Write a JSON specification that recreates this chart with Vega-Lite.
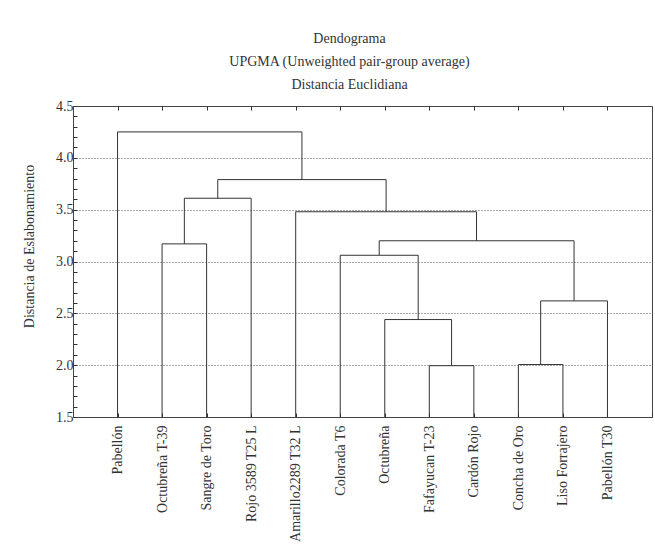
{
  "$schema": "https://vega.github.io/schema/vega-lite/v6.json",
  "width": 579,
  "height": 311,
  "autosize": {"type": "none"},
  "padding": {"left": 73, "top": 106, "right": 3, "bottom": 133},
  "background": "white",
  "title": {
    "text": ["Dendograma", "UPGMA (Unweighted pair-group average)", "Distancia Euclidiana"],
    "font": "Liberation Serif",
    "fontSize": 14,
    "fontWeight": "normal",
    "color": "#333",
    "lineHeight": 23,
    "anchor": "middle",
    "dx": -13,
    "offset": 7
  },
  "config": {
    "view": {"stroke": "#444", "strokeWidth": 1},
    "axis": {
      "labelFont": "Liberation Serif",
      "titleFont": "Liberation Serif",
      "labelColor": "#333",
      "titleColor": "#333",
      "tickColor": "#333",
      "domain": false
    }
  },
  "data": {
    "values": [
      {"merge": "A", "left": 8, "right": 9, "height": 1.995, "leftFrom": 1.5, "rightFrom": 1.5},
      {"merge": "B", "left": 7, "right": 8.5, "height": 2.44, "leftFrom": 1.5, "rightFrom": 1.995},
      {"merge": "C", "left": 10, "right": 11, "height": 2.006, "leftFrom": 1.5, "rightFrom": 1.5},
      {"merge": "D", "left": 10.5, "right": 12, "height": 2.62, "leftFrom": 2.006, "rightFrom": 1.5},
      {"merge": "E", "left": 6, "right": 7.75, "height": 3.06, "leftFrom": 1.5, "rightFrom": 2.44},
      {"merge": "F", "left": 6.875, "right": 11.25, "height": 3.2, "leftFrom": 3.06, "rightFrom": 2.62},
      {"merge": "G", "left": 5, "right": 9.06, "height": 3.48, "leftFrom": 1.5, "rightFrom": 3.2},
      {"merge": "H", "left": 2, "right": 3, "height": 3.17, "leftFrom": 1.5, "rightFrom": 1.5},
      {"merge": "I", "left": 2.5, "right": 4, "height": 3.61, "leftFrom": 3.17, "rightFrom": 1.5},
      {"merge": "J", "left": 3.25, "right": 7.03, "height": 3.79, "leftFrom": 3.61, "rightFrom": 3.48},
      {"merge": "K", "left": 1, "right": 5.14, "height": 4.25, "leftFrom": 1.5, "rightFrom": 3.79}
    ]
  },
  "resolve": {"axis": {"x": "independent", "y": "independent"}},
  "layer": [
    {
      "mark": {"type": "rule", "color": "#333", "strokeWidth": 1},
      "encoding": {
        "x": {
          "field": "left", "type": "quantitative",
          "scale": {"domain": [0, 13], "nice": false, "zero": false},
          "axis": {
            "orient": "bottom",
            "title": null,
            "values": [1, 2, 3, 4, 5, 6, 7, 8, 9, 10, 11, 12, 13],
            "labelExpr": "['Pabellón','Octubreña T-39','Sangre de Toro','Rojo 3589 T25 L','Amarillo2289 T32 L','Colorada T6','Octubreña','Fafayucan T-23','Cardón Rojo','Concha de Oro','Liso Forrajero','Pabellón T30',''][datum.value-1]",
            "labelAngle": 270,
            "labelAlign": "right",
            "labelBaseline": "middle",
            "labelFontSize": 14,
            "labelPadding": 12,
            "tickSize": -4,
            "grid": false
          }
        },
        "x2": {"field": "right"},
        "y": {
          "field": "height", "type": "quantitative",
          "scale": {"domain": [1.5, 4.5], "nice": false, "zero": false},
          "axis": {
            "title": "Distancia de Eslabonamiento",
            "titleFontSize": 14,
            "titleFontWeight": "normal",
            "titleAngle": 270,
            "titleAlign": "center",
            "titleBaseline": "middle",
            "titleX": -44,
            "titleY": 140,
            "values": [1.5, 1.6, 1.7, 1.8, 1.9, 2.0, 2.1, 2.2, 2.3, 2.4, 2.5, 2.6, 2.7, 2.8, 2.9, 3.0, 3.1, 3.2, 3.3, 3.4, 3.5, 3.6, 3.7, 3.8, 3.9, 4.0, 4.1, 4.2, 4.3, 4.4, 4.5],
            "labelExpr": "abs(datum.value*2 - round(datum.value*2)) < 0.001 ? format(datum.value, '.1f') : ''",
            "labelFontSize": 14,
            "labelPadding": 4,
            "tickSize": -4,
            "grid": true,
            "gridColor": "#555",
            "gridDash": [1, 2],
            "gridWidth": 1,
            "gridOpacity": {"condition": {"test": "abs(datum.value*2 - round(datum.value*2)) < 0.001 && datum.value > 1.6 && datum.value < 4.4", "value": 1}, "value": 0}
          }
        }
      }
    },
    {
      "mark": {"type": "rule", "color": "#333", "strokeWidth": 1},
      "encoding": {
        "x": {
          "field": "left", "type": "quantitative",
          "scale": {"domain": [0, 13], "nice": false, "zero": false},
          "axis": {
            "orient": "top",
            "title": null,
            "values": [1, 2, 3, 4, 5, 6, 7, 8, 9, 10, 11, 12],
            "labels": false,
            "tickSize": -4,
            "grid": false
          }
        },
        "y": {"field": "leftFrom", "type": "quantitative", "scale": {"domain": [1.5, 4.5], "nice": false, "zero": false}, "axis": null},
        "y2": {"field": "height"}
      }
    },
    {
      "mark": {"type": "rule", "color": "#333", "strokeWidth": 1},
      "encoding": {
        "x": {"field": "right", "type": "quantitative", "scale": {"domain": [0, 13], "nice": false, "zero": false}, "axis": null},
        "y": {"field": "rightFrom", "type": "quantitative", "scale": {"domain": [1.5, 4.5], "nice": false, "zero": false}, "axis": null},
        "y2": {"field": "height"}
      }
    }
  ]
}
